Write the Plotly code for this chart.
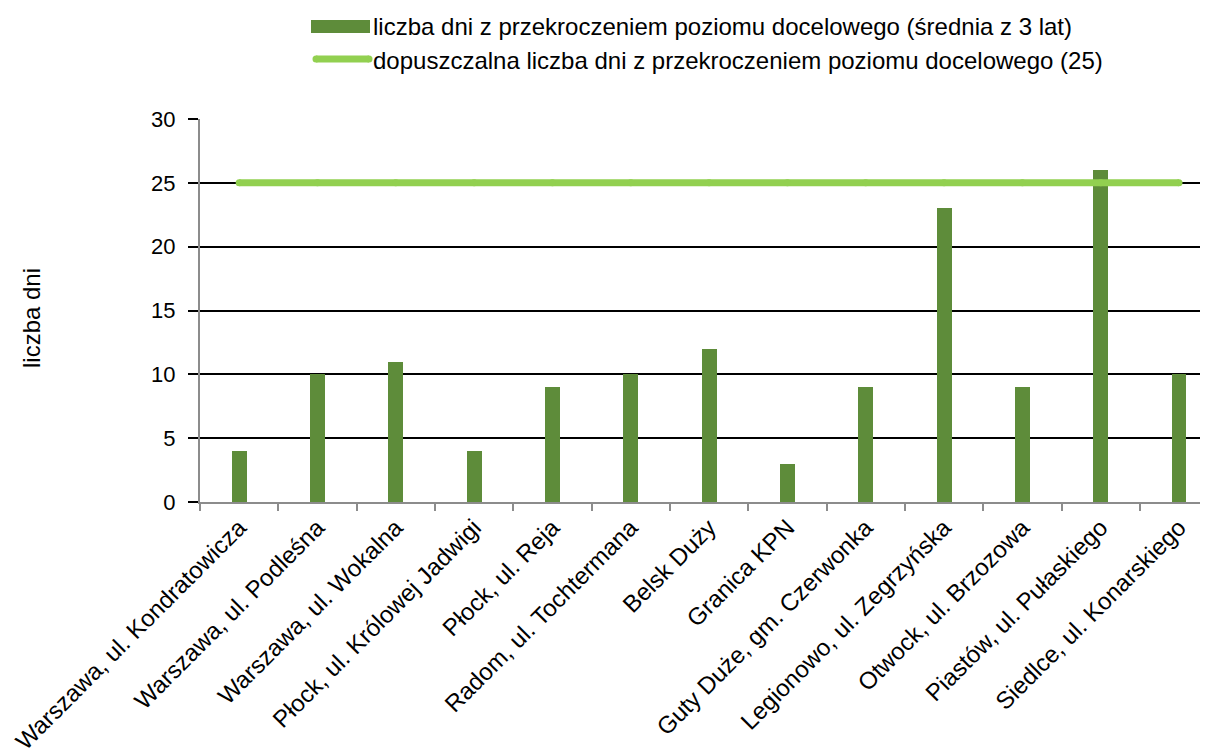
import plotly.graph_objects as go

categories = [
    "Warszawa, ul. Kondratowicza",
    "Warszawa, ul. Podleśna",
    "Warszawa, ul. Wokalna",
    "Płock, ul. Królowej Jadwigi",
    "Płock, ul. Reja",
    "Radom, ul. Tochtermana",
    "Belsk Duży",
    "Granica KPN",
    "Guty Duże, gm. Czerwonka",
    "Legionowo, ul. Zegrzyńska",
    "Otwock, ul. Brzozowa",
    "Piastów, ul. Pułaskiego",
    "Siedlce, ul. Konarskiego",
]
days_exceeded = [4, 10, 11, 4, 9, 10, 12, 3, 9, 23, 9, 26, 10]
allowed_days = [25] * len(categories)

bar_name = "liczba dni z przekroczeniem poziomu docelowego (średnia z 3 lat)"
line_name = "dopuszczalna liczba dni z przekroczeniem poziomu docelowego (25)"
y_title = "liczba dni"
y_ticks = [0, 5, 10, 15, 20, 25, 30]

BAR_COLOR = "#5e8c3a"
LINE_COLOR = "#92d050"
FONT = "Liberation Sans, Arial, sans-serif"

fig = go.Figure()
fig.add_trace(go.Bar(
    x=categories, y=days_exceeded, name=bar_name,
    marker=dict(color=BAR_COLOR, line=dict(width=0)),
    width=0.19, showlegend=False,
))
fig.add_trace(go.Scatter(
    x=categories, y=allowed_days, name=line_name, mode="lines+markers",
    line=dict(color=LINE_COLOR, width=7),
    marker=dict(color=LINE_COLOR, size=7, line=dict(width=0)),
    showlegend=False,
))

# page-pixel -> paper conversion (plot area on page: x 200..1208, y 119..502)
X0, X1, Y0, Y1 = 200, 1208, 119, 502
def px(x):
    return (x - X0) / (X1 - X0)
def py(y):
    return (Y1 - y) / (Y1 - Y0)

# manual legend
fig.add_shape(type="rect", xref="paper", yref="paper",
              x0=px(311), x1=px(370), y0=py(33), y1=py(20),
              fillcolor=BAR_COLOR, line=dict(width=0))
fig.add_shape(type="line", xref="paper", yref="paper",
              x0=px(316), x1=px(369), y0=py(59), y1=py(59),
              line=dict(color=LINE_COLOR, width=7))
for cx in (316, 369):
    fig.add_shape(type="circle", xref="paper", yref="paper",
                  x0=px(cx - 3.5), x1=px(cx + 3.5), y0=py(59 + 3.5), y1=py(59 - 3.5),
                  fillcolor=LINE_COLOR, line=dict(width=0))
fig.add_annotation(xref="paper", yref="paper", x=px(371), y=py(27),
                   text=bar_name, showarrow=False, xanchor="left", yanchor="middle",
                   font=dict(size=24, color="black", family=FONT))
fig.add_annotation(xref="paper", yref="paper", x=px(371), y=py(60),
                   text=line_name, showarrow=False, xanchor="left", yanchor="middle",
                   font=dict(size=24, color="black", family=FONT))
fig.add_annotation(xref="paper", yref="paper", x=px(31), y=py(318),
                   text=y_title, showarrow=False, textangle=-90,
                   xanchor="center", yanchor="middle",
                   font=dict(size=24, color="black", family=FONT))

fig.update_layout(
    width=1200, height=741,
    margin=dict(l=192, r=0, t=111, b=247, pad=0),
    plot_bgcolor="white", paper_bgcolor="white",
    font=dict(family=FONT, size=22, color="black"),
    bargap=0,
)
fig.update_xaxes(
    range=[-0.5, 12.37], showgrid=False, automargin=False,
    showline=True, linecolor="#8c8c8c", linewidth=2,
    ticks="outside", tickson="boundaries", ticklen=7, tickcolor="#8c8c8c", tickwidth=2,
    tickangle=-45, tickfont=dict(size=24, family=FONT, color="black"),
)
fig.update_yaxes(
    range=[0, 30], tickvals=y_ticks, automargin=False,
    showgrid=True, gridcolor="black", gridwidth=2,
    showline=True, linecolor="#8c8c8c", linewidth=2,
    ticks="outside", ticklen=10, tickcolor="black", tickwidth=2,
    ticklabelstandoff=8,
    tickfont=dict(size=22, family=FONT, color="black"),
    zeroline=False,
)

fig.write_html("out.html")
